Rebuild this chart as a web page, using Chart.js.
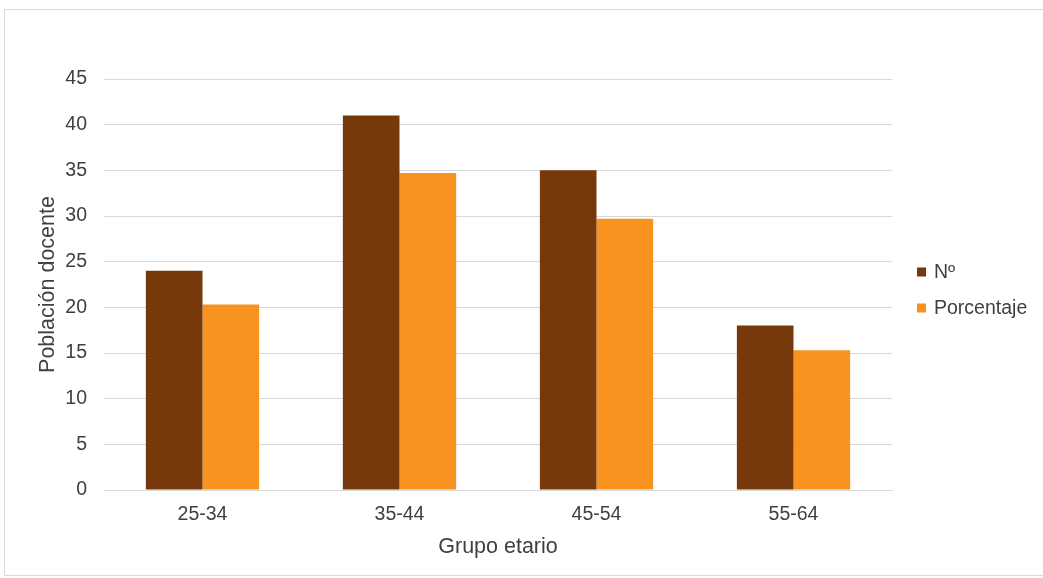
<!DOCTYPE html>
<html>
<head>
<meta charset="utf-8">
<script src="https://cdn.jsdelivr.net/npm/chart.js@4"></script>
<style>
  html, body { margin: 0; padding: 0; background: #ffffff; }
  #wrap { position: relative; width: 1043px; height: 578px; overflow: hidden; }
  #frame { position: absolute; left: 4px; top: 9px; width: 1060px; height: 567px; border: 1px solid #d9d9d9; box-sizing: border-box; }
  #chart { position: absolute; left: 0; top: 0; }
</style>
</head>
<body>
<div id="wrap">
  <div id="frame"></div>
  <canvas id="chart" width="1043" height="578"></canvas>
</div>
<script>
// Age groups of the teaching staff
const categories = ['25-34', '35-44', '45-54', '55-64'];
// Number of teachers per group
const numero = [24, 41, 35, 18];
// Share of the total (118 teachers), in percent
const porcentaje = [20.3, 34.7, 29.7, 15.3];
// Value axis range
const yMin = 0, yMax = 45, yStep = 5;

const seriesNames = ['Nº', 'Porcentaje'];
const seriesColors = ['#77390b', '#f7931e'];

const textColor = '#404040';
const gridColor = '#d9d9d9';
const fontFamily = '"Liberation Sans", Arial, sans-serif';

// Legend drawn beside the plot, one square swatch per series
const sideLegend = {
  id: 'sideLegend',
  afterDraw(chart, args, opts) {
    const { ctx, chartArea } = chart;
    ctx.save();
    ctx.font = opts.font;
    ctx.textBaseline = 'middle';
    ctx.textAlign = 'left';
    chart.data.datasets.forEach((ds, i) => {
      const y = opts.top + i * opts.spacing;
      const x = chartArea.right + opts.offsetX;
      ctx.fillStyle = ds.backgroundColor;
      ctx.fillRect(x, y - opts.box / 2, opts.box, opts.box);
      ctx.fillStyle = opts.color;
      ctx.fillText(ds.label, x + opts.box + opts.gap, y + 1);
    });
    ctx.restore();
  }
};

new Chart(document.getElementById('chart'), {
  type: 'bar',
  data: {
    labels: categories,
    datasets: [
      { label: seriesNames[0], data: numero, backgroundColor: seriesColors[0] },
      { label: seriesNames[1], data: porcentaje, backgroundColor: seriesColors[1] }
    ]
  },
  options: {
    responsive: false,
    animation: false,
    devicePixelRatio: 1,
    layout: { padding: { left: 0, top: 79, right: 151, bottom: 0 } },
    datasets: { bar: { categoryPercentage: 0.575, barPercentage: 1.0 } },
    plugins: {
      legend: { display: false },
      tooltip: { enabled: false },
      sideLegend: {
        font: '19.5px ' + fontFamily,
        color: textColor,
        top: 272,
        spacing: 36,
        offsetX: 25,
        box: 9,
        gap: 8
      }
    },
    scales: {
      x: {
        grid: { display: false, drawTicks: false },
        border: { display: true, color: gridColor, width: 1 },
        ticks: { color: textColor, font: { family: fontFamily, size: 19.5 }, padding: 13 },
        title: {
          display: true, text: 'Grupo etario', color: textColor,
          font: { family: fontFamily, size: 21.5 }, padding: { top: 0, bottom: 18 }
        },
        afterFit(scale) { scale.height = 88; }
      },
      y: {
        min: yMin, max: yMax,
        grid: { color: gridColor, lineWidth: 1, drawTicks: false },
        border: { display: false },
        ticks: { stepSize: yStep, color: textColor, font: { family: fontFamily, size: 19.5 }, padding: 17 },
        title: {
          display: true, text: 'Población docente', color: textColor,
          font: { family: fontFamily, size: 21.5 }, padding: { top: 35, bottom: 0 }
        },
        afterFit(scale) { scale.width = 104; }
      }
    }
  },
  plugins: [sideLegend]
});
</script>
</body>
</html>
